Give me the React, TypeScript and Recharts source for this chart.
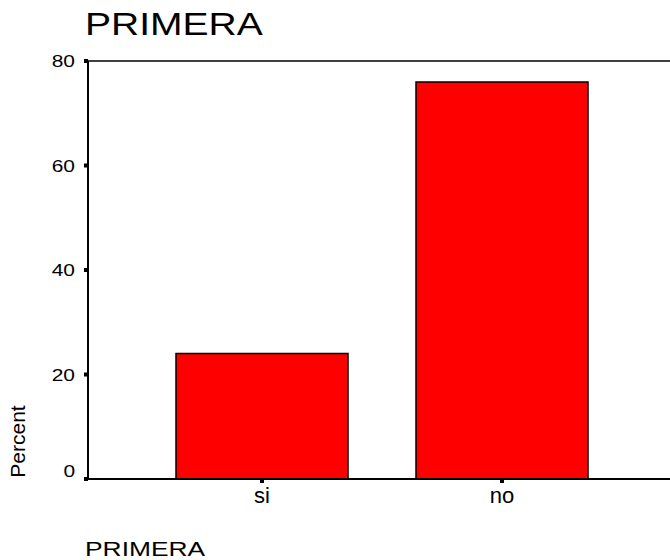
import React from 'react';
import { BarChart, Bar, XAxis, YAxis, ReferenceLine } from 'recharts';

const categories = ['si', 'no'];
const percentValues = [24, 76];
const yTicks = [0, 20, 40, 60, 80];

const data = categories.map((category, i) => ({ category, percent: percentValues[i] }));

const FONT = '"Liberation Sans", Arial, sans-serif';

const YTick = ({ x, y, payload }: any) => {
  // the zero label sits a bit above its tick in the original
  const shift = payload.value === 0 ? -8 : 0;
  return (
    <text
      transform={`translate(${x},${y + shift + 6}) scale(1.23,1)`}
      textAnchor="end"
      fontSize={17}
      fontFamily={FONT}
      fill="#000"
    >
      {payload.value}
    </text>
  );
};

const XTick = ({ x, y, payload }: any) => (
  <text x={x} y={y + 18} textAnchor="middle" fontSize={22} fontFamily={FONT} fill="#000">
    {payload.value}
  </text>
);

const App: React.FC = () => {
  return (
    <div style={{ position: 'absolute', left: 0, top: 0, width: 670, height: 560, background: '#fff' }}>
      <BarChart
        width={670}
        height={560}
        data={data}
        margin={{ top: 61, right: 0, left: 0, bottom: 51 }}
      >
        <XAxis
          dataKey="category"
          height={30}
          padding={{ left: 54, right: 48 }}
          axisLine={{ stroke: '#000', strokeWidth: 2 }}
          tickLine={{ stroke: '#000', strokeWidth: 4 }}
          tickSize={4}
          tickMargin={2}
          tick={<XTick />}
        />
        <YAxis
          width={88}
          domain={[0, 80]}
          ticks={yTicks}
          interval={0}
          axisLine={{ stroke: '#000', strokeWidth: 2 }}
          tickLine={{ stroke: '#000', strokeWidth: 4 }}
          tickSize={4}
          tickMargin={9}
          tick={<YTick />}
        />
        <ReferenceLine y={80} stroke="#000" strokeWidth={1.5} />
        <Bar
          dataKey="percent"
          fill="#ff0000"
          stroke="#000"
          strokeWidth={1.5}
          barSize={172}
          isAnimationActive={false}
        />
      </BarChart>
      <svg
        width={670}
        height={560}
        style={{ position: 'absolute', left: 0, top: 0, pointerEvents: 'none' }}
      >
        <text transform="translate(85,35) scale(1.28,1)" fontSize={30.5} fontFamily={FONT} fill="#000">
          PRIMERA
        </text>
        <text transform="translate(85,556) scale(1.32,1)" fontSize={20} fontFamily={FONT} fill="#000">
          PRIMERA
        </text>
        <text
          transform="translate(25,441.5) rotate(-90) scale(1.05,1)"
          textAnchor="middle"
          fontSize={20}
          fontFamily={FONT}
          fill="#000"
        >
          Percent
        </text>
      </svg>
    </div>
  );
};

export default App;
